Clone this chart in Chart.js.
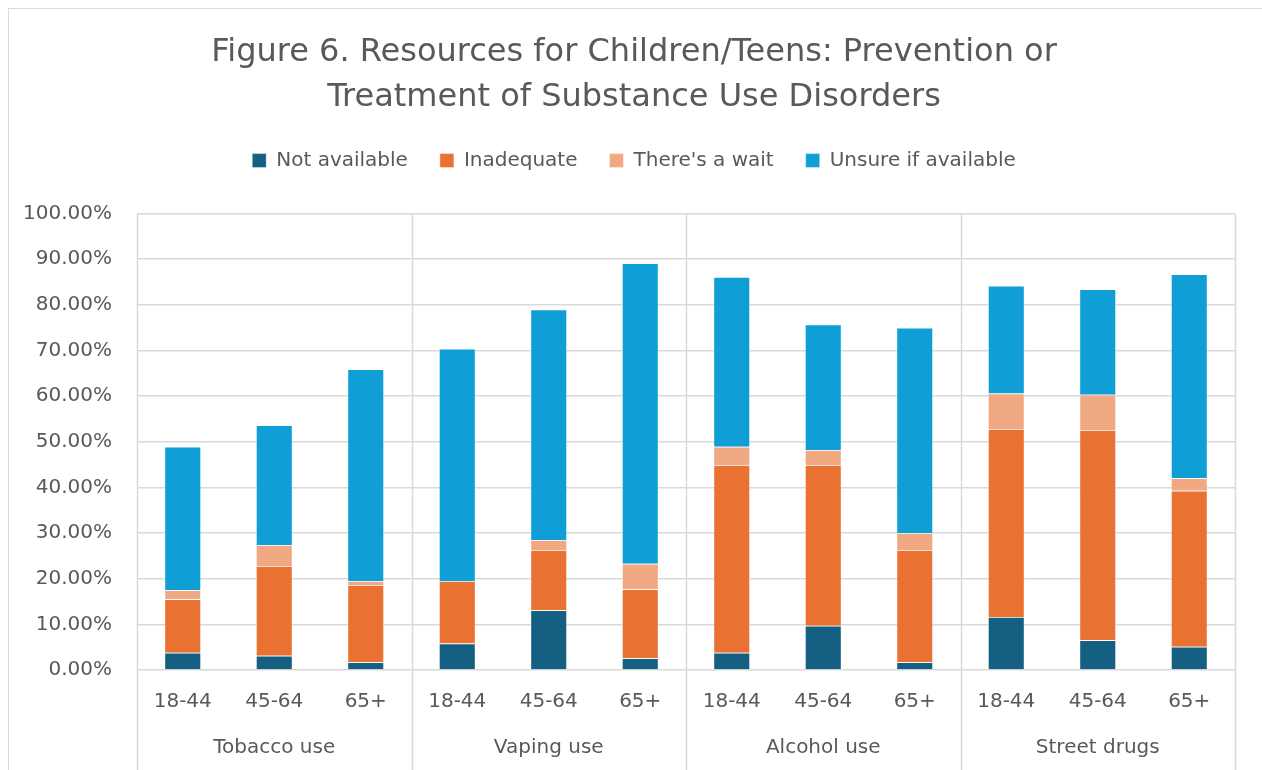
<!DOCTYPE html>
<html>
<head>
<meta charset="utf-8">
<script src="https://cdn.jsdelivr.net/npm/chart.js@4.4.1/dist/chart.umd.min.js"></script>
<style>
  html, body { margin: 0; padding: 0; background: #ffffff; overflow: hidden; }
  #frame {
    position: absolute; left: 8px; top: 8px;
    width: 1260px; height: 770px;
    border-left: 1px solid #d9d9d9; border-top: 1px solid #d9d9d9;
    background: #ffffff;
  }
  #chart { display: block; }
</style>
</head>
<body>
<div id="frame"><canvas id="chart" width="1253" height="761"></canvas></div>
<script>
// Age groups within each substance category (bottom axis, first row)
const ageGroups = ['18-44', '45-64', '65+', '18-44', '45-64', '65+', '18-44', '45-64', '65+', '18-44', '45-64', '65+'];
// Substance categories (bottom axis, second row)
const substances = ['Tobacco use', 'Vaping use', 'Alcohol use', 'Street drugs'];
// Y-axis ticks, percent
const yTicks = [0, 10, 20, 30, 40, 50, 60, 70, 80, 90, 100];

// Series values, percent of respondents
const notAvailable   = [3.8, 3.1, 1.7, 5.8, 13.1, 2.6, 3.8, 9.7, 1.7, 11.6, 6.5, 5.1];
const inadequate     = [11.7, 19.7, 16.9, 13.7, 13.2, 15.1, 41.1, 35.2, 24.6, 41.2, 46.1, 34.2];
const thereIsAWait   = [2.0, 4.6, 0.9, 0.0, 2.2, 5.6, 4.0, 3.3, 3.7, 7.8, 7.7, 2.7];
const unsureIfAvail  = [31.4, 26.2, 46.4, 50.9, 50.5, 65.8, 37.2, 27.5, 45.0, 23.6, 23.1, 44.7];

const FONT = "'DejaVu Sans', 'Open Sans', sans-serif";
const TEXT = '#595959';
const GRID = '#d9d9d9';

// Vertical separators between substance groups, running from the plot top
// down through both label rows; positions come from the category scale.
const groupSeparators = {
  id: 'groupSeparators',
  beforeDatasetsDraw(chart) {
    const x = chart.scales.x;
    const { ctx, chartArea } = chart;
    const n = ageGroups.length;
    const half = (x.getPixelForValue(1) - x.getPixelForValue(0)) / 2;
    ctx.save();
    ctx.strokeStyle = GRID;
    ctx.lineWidth = 1.5;
    for (let i = 0; i <= n; i += 3) {
      const px = Math.round(i < n ? x.getPixelForValue(i) - half : x.getPixelForValue(n - 1) + half) + 0.5;
      ctx.beginPath();
      ctx.moveTo(px, chartArea.top);
      ctx.lineTo(px, chart.height);
      ctx.stroke();
    }
    ctx.restore();
  }
};

// Extra room between the legend row and the plot.
const legendGap = {
  id: 'legendGap',
  afterInit(chart) {
    const legend = chart.legend;
    if (!legend) return;
    const fit = legend.fit;
    legend.fit = function () {
      fit.call(this);
      this.height += 33;
    };
  }
};

const mk = (label, data, color) => ({
  label, data,
  backgroundColor: color,
  borderColor: 'rgba(255,255,255,0.55)',
  borderWidth: 0.75,
  barPercentage: 0.4,
  categoryPercentage: 1.0,
  xAxisID: 'x'
});

new Chart(document.getElementById('chart'), {
  type: 'bar',
  data: {
    labels: ageGroups,
    datasets: [
      mk('Not available', notAvailable, '#156082'),
      mk('Inadequate', inadequate, '#E97132'),
      mk("There's a wait", thereIsAWait, '#F1A983'),
      mk('Unsure if available', unsureIfAvail, '#0F9ED5')
    ]
  },
  options: {
    responsive: false,
    animation: false,
    layout: { padding: { left: 24, right: 27, top: 0, bottom: 0 } },
    plugins: {
      title: {
        display: true,
        text: ['Figure 6. Resources for Children/Teens: Prevention or', 'Treatment of Substance Use Disorders'],
        color: TEXT,
        font: { family: FONT, size: 32, weight: 'normal', lineHeight: 1.4 },
        padding: { top: 21, bottom: -1 }
      },
      legend: {
        position: 'top',
        labels: {
          color: TEXT,
          font: { family: FONT, size: 20 },
          boxWidth: 14,
          boxHeight: 14,
          padding: 32
        }
      },
      tooltip: { enabled: false }
    },
    scales: {
      x: {
        stacked: true,
        position: 'bottom',
        grid: { display: false },
        border: { display: false },
        ticks: { color: TEXT, font: { family: FONT, size: 20 }, padding: 12, maxRotation: 0, autoSkip: false },
        afterFit(scale) { scale.height = 52; }
      },
      x2: {
        type: 'category',
        labels: substances,
        position: 'bottom',
        offset: true,
        grid: { display: false },
        border: { display: false },
        ticks: { color: TEXT, font: { family: FONT, size: 20 }, padding: 6, maxRotation: 0 },
        afterFit(scale) { scale.height = 48; }
      },
      y: {
        stacked: true,
        min: 0,
        max: 100,
        afterBuildTicks(scale) { scale.ticks = yTicks.map(v => ({ value: v })); },
        grid: { color: GRID, lineWidth: 1.5, drawTicks: false },
        border: { display: false },
        ticks: {
          color: TEXT,
          font: { family: FONT, size: 20 },
          padding: 25,
          callback: v => v.toFixed(2) + '%'
        },
        afterFit(scale) {
          scale.width = 104;
          // let the widest tick label run into the left padding
          scale._computeLabelArea = () => undefined;
        }
      }
    }
  },
  plugins: [groupSeparators, legendGap]
});
</script>
</body>
</html>
